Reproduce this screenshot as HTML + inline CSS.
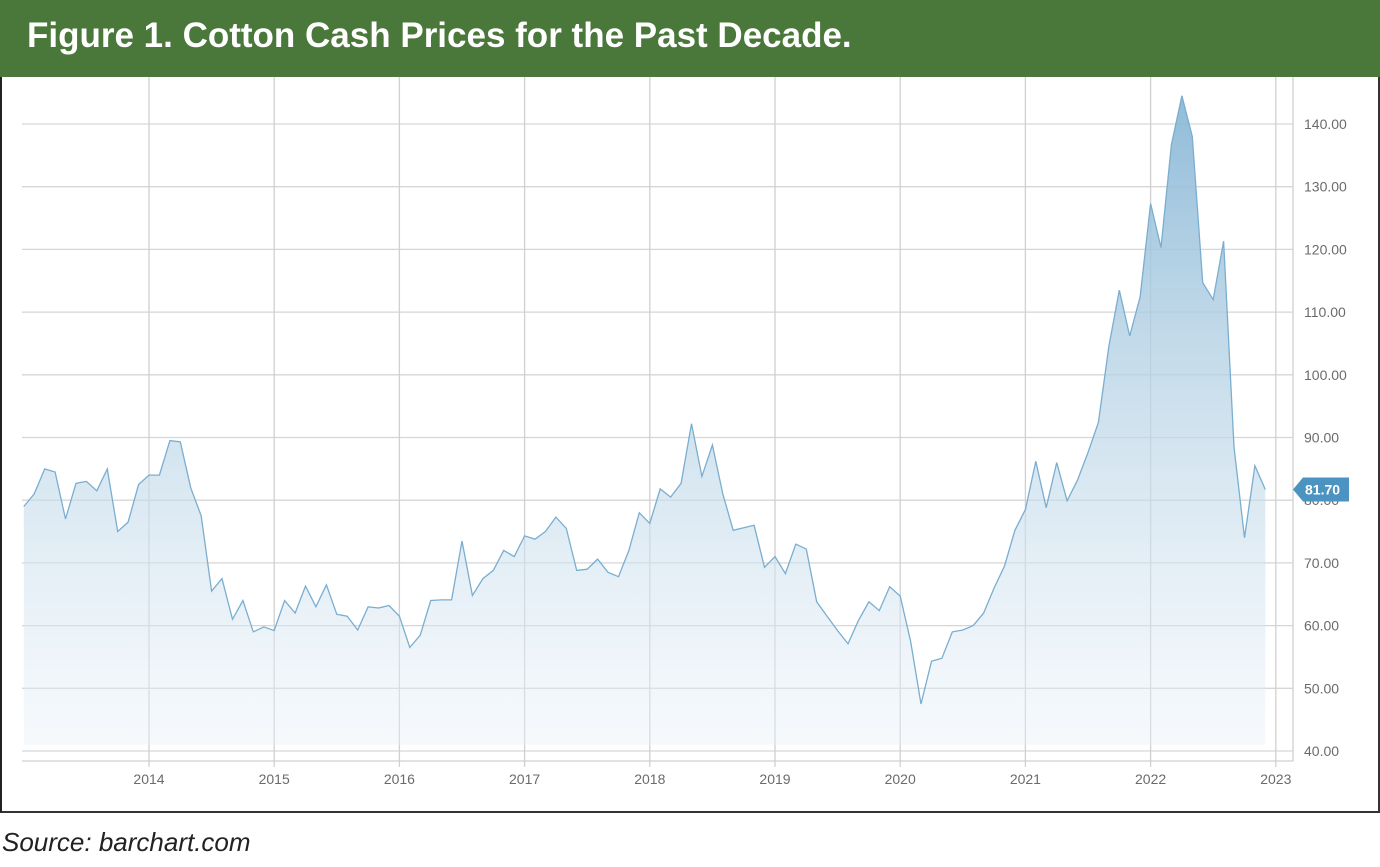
<!DOCTYPE html>
<html><head><meta charset="utf-8"><style>
body{margin:0;width:1380px;height:867px;background:#fff;overflow:hidden;font-family:"Liberation Sans",sans-serif}
#hdr{position:absolute;left:0;top:0;width:1380px;height:77px;background:#4a773a}
#hdr div{position:absolute;left:27px;top:16px;color:#fff;font-weight:bold;font-size:35px}
#box{position:absolute;left:0;top:77px;width:1376px;height:734px;border-left:2px solid #222;border-right:2px solid #333;border-bottom:2px solid #333}
#src{position:absolute;left:2px;top:827px;font-style:italic;font-size:26px;color:#222}
svg{position:absolute;left:0;top:0}
</style></head><body>
<div id="hdr"><div>Figure 1. Cotton Cash Prices for the Past Decade.</div></div>
<div id="box"></div>
<svg id="s" width="1380" height="867"></svg>
<div id="src">Source: barchart.com</div>
<script>
var d=[79,81,85,84.5,77,82.7,83,81.5,85,75,76.5,82.5,
84,84,89.5,89.3,82,77.5,65.5,67.5,61,64,59,59.8,
59.2,64,62,66.3,63,66.5,61.8,61.5,59.3,63,62.8,63.2,
61.5,56.5,58.5,64,64.1,64.1,73.5,64.8,67.5,68.8,72,71,
74.3,73.8,75,77.3,75.5,68.8,69,70.6,68.5,67.8,72,78,
76.3,81.8,80.5,82.7,92.2,83.8,88.8,81,75.2,75.6,76,69.3,
71,68.3,73,72.2,63.8,61.5,59.2,57.1,60.8,63.8,62.4,66.2,
64.7,57.5,47.5,54.3,54.8,59,59.3,60,62,66,69.5,75.2,
78.5,86.2,78.8,86,79.9,83.2,87.6,92.4,104.5,113.5,106.2,112.4,
127.3,120.3,136.7,144.5,138,114.7,112,121.3,88.5,74,85.5,81.7];
function X(i){return 23.8+i*10.433}
function Y(v){return 751-(v-40)*6.27}
var s='<defs><linearGradient id="g" x1="0" y1="0" x2="0" y2="1"><stop offset="0" stop-color="#8ab8d6" stop-opacity="0.95"/><stop offset="0.45" stop-color="#b9d4e6" stop-opacity="0.75"/><stop offset="1" stop-color="#e8f1f8" stop-opacity="0.4"/></linearGradient></defs>';
for(var v=40;v<=140;v+=10){var y=Y(v);s+='<line x1="22" x2="1293" y1="'+y+'" y2="'+y+'" stroke="#d6d6d6" stroke-width="1.3"/>';
s+='<text x="1304" y="'+(y+5)+'" font-size="14" fill="#6b6b6b">'+v+'.00</text>';}
for(var k=1;k<=10;k++){var x=23.8+k*125.2;s+='<line x1="'+x+'" x2="'+x+'" y1="77" y2="767" stroke="#d0d0d0" stroke-width="1.3"/>';
s+='<text x="'+x+'" y="784" font-size="14" fill="#6b6b6b" text-anchor="middle">'+(2013+k)+'</text>';}
s+='<line x1="22" x2="1293" y1="761" y2="761" stroke="#d0d0d0" stroke-width="1.3"/><line x1="1293" x2="1293" y1="77" y2="761" stroke="#d0d0d0" stroke-width="1.3"/>';
var p='';for(var i=0;i<d.length;i++)p+=(i?'L':'M')+X(i).toFixed(1)+' '+Y(d[i]).toFixed(1);
s+='<path d="'+p+'L'+X(119)+' 745L'+X(0)+' 745Z" fill="url(#g)"/>';
s+='<path d="'+p+'" fill="none" stroke="#7aaed0" stroke-width="1.3"/>';
var ty=Y(81.7);
s+='<path d="M1293 '+ty+'L1303 '+(ty-12)+'L1349 '+(ty-12)+'L1349 '+(ty+12)+'L1303 '+(ty+12)+'Z" fill="#4b93c1"/>';
s+='<text x="1305" y="'+(ty+5)+'" font-size="14" font-weight="bold" fill="#fff">81.70</text>';
document.getElementById('s').innerHTML=s;
</script>
</body></html>
